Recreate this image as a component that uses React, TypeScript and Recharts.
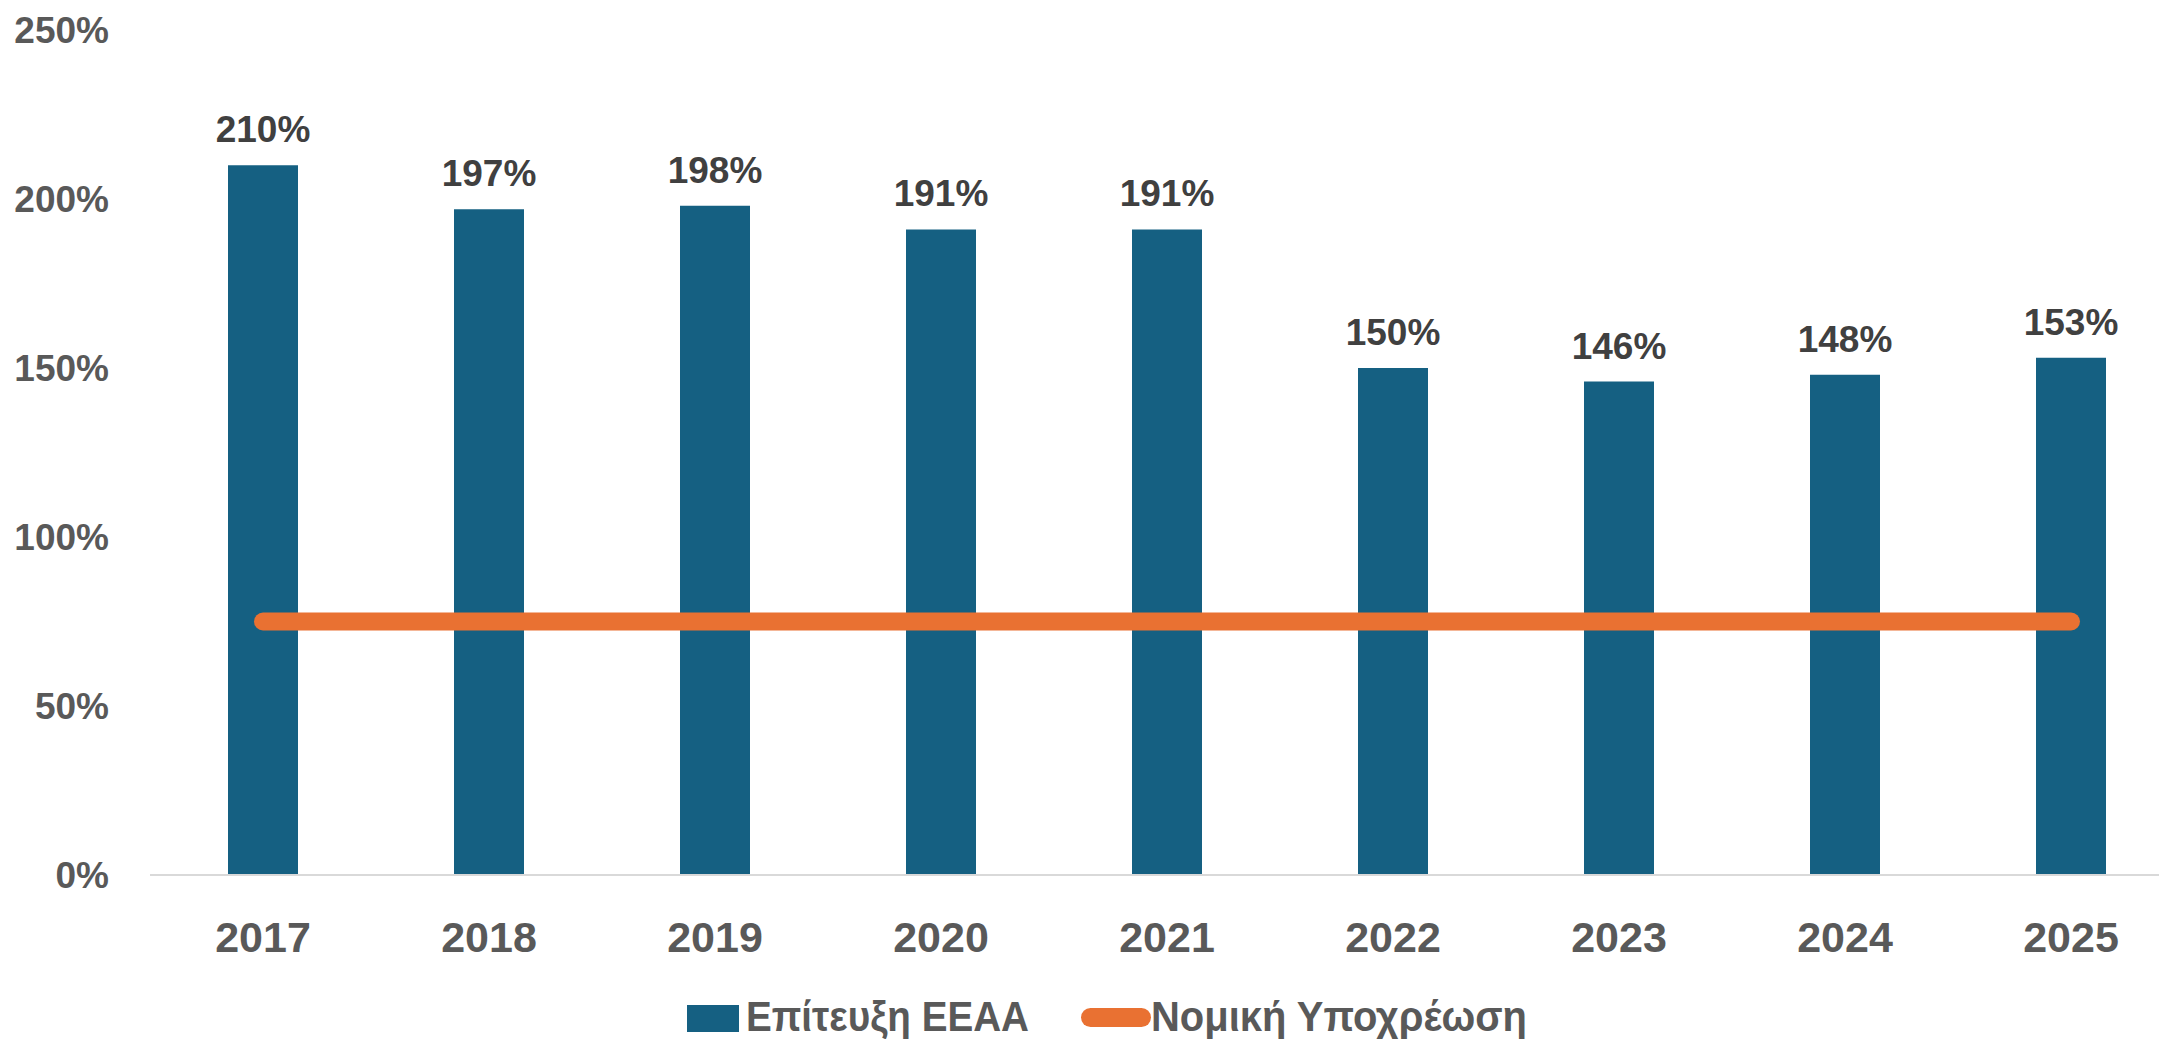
import { Bar, ComposedChart, LabelList, Legend, Line, XAxis, YAxis } from 'recharts'

const years = ['2017', '2018', '2019', '2020', '2021', '2022', '2023', '2024', '2025']
const achieved = [210, 197, 198, 191, 191, 150, 146, 148, 153]
const obligation = [75, 75, 75, 75, 75, 75, 75, 75, 75]
const yTicks = [0, 50, 100, 150, 200, 250]

const BAR_COLOR = '#156082'
const LINE_COLOR = '#E97132'
const FONT = '"Liberation Sans", Arial, sans-serif'

const data = years.map((year, i) => ({
  year,
  achieved: achieved[i],
  obligation: obligation[i],
}))

function renderLegend() {
  return (
    <svg width={880} height={48} style={{ display: 'block', overflow: 'visible' }}>
      <rect x={27} y={10} width={52} height={27} fill={BAR_COLOR} />
      <text
        x={86}
        y={36}
        fontSize={42}
        fontWeight="bold"
        fill="#595959"
        fontFamily={FONT}
        textLength={283}
        lengthAdjust="spacingAndGlyphs"
      >
        Επίτευξη ΕΕΑΑ
      </text>
      <rect x={421} y={13} width={70} height={19} rx={9.5} fill={LINE_COLOR} />
      <text
        x={491}
        y={36}
        fontSize={42}
        fontWeight="bold"
        fill="#595959"
        fontFamily={FONT}
        textLength={376}
        lengthAdjust="spacingAndGlyphs"
      >
        Νομική Υποχρέωση
      </text>
    </svg>
  )
}

export default function App() {
  return (
    <div
      style={{
        position: 'absolute',
        left: 0,
        top: 0,
        width: 2159,
        height: 1039,
        overflow: 'hidden',
        background: '#fff',
      }}
    >
      <ComposedChart width={2200} height={1039} data={data} margin={{ top: 30, right: 16, bottom: 64, left: 0 }}>
        <XAxis
          dataKey="year"
          height={100}
          tickLine={false}
          tickSize={0}
          tickMargin={46}
          axisLine={{ stroke: '#D9D9D9', strokeWidth: 2 }}
          tick={{ fill: '#595959', fontSize: 43, fontWeight: 'bold', fontFamily: FONT }}
        />
        <YAxis
          width={150}
          domain={[0, 250]}
          ticks={yTicks}
          tickFormatter={(v) => `${v}%`}
          axisLine={false}
          tickLine={false}
          tickSize={0}
          tickMargin={41}
          tick={{ fill: '#595959', fontSize: 37, fontWeight: 'bold', fontFamily: FONT }}
        />
        <Legend
          layout="horizontal"
          verticalAlign="middle"
          align="center"
          content={renderLegend}
          wrapperStyle={{ position: 'absolute', left: 660, top: 995, width: 880, height: 48 }}
        />
        <Bar dataKey="achieved" name="Επίτευξη ΕΕΑΑ" fill={BAR_COLOR} barSize={70} isAnimationActive={false}>
          <LabelList
            dataKey="achieved"
            position="top"
            offset={23}
            formatter={(v: number) => `${v}%`}
            style={{ fill: '#404040', fontSize: 37, fontWeight: 'bold', fontFamily: FONT }}
          />
        </Bar>
        <Line
          type="linear"
          dataKey="obligation"
          name="Νομική Υποχρέωση"
          stroke={LINE_COLOR}
          strokeWidth={18}
          strokeLinecap="round"
          dot={false}
          activeDot={false}
          isAnimationActive={false}
        />
      </ComposedChart>
    </div>
  )
}
